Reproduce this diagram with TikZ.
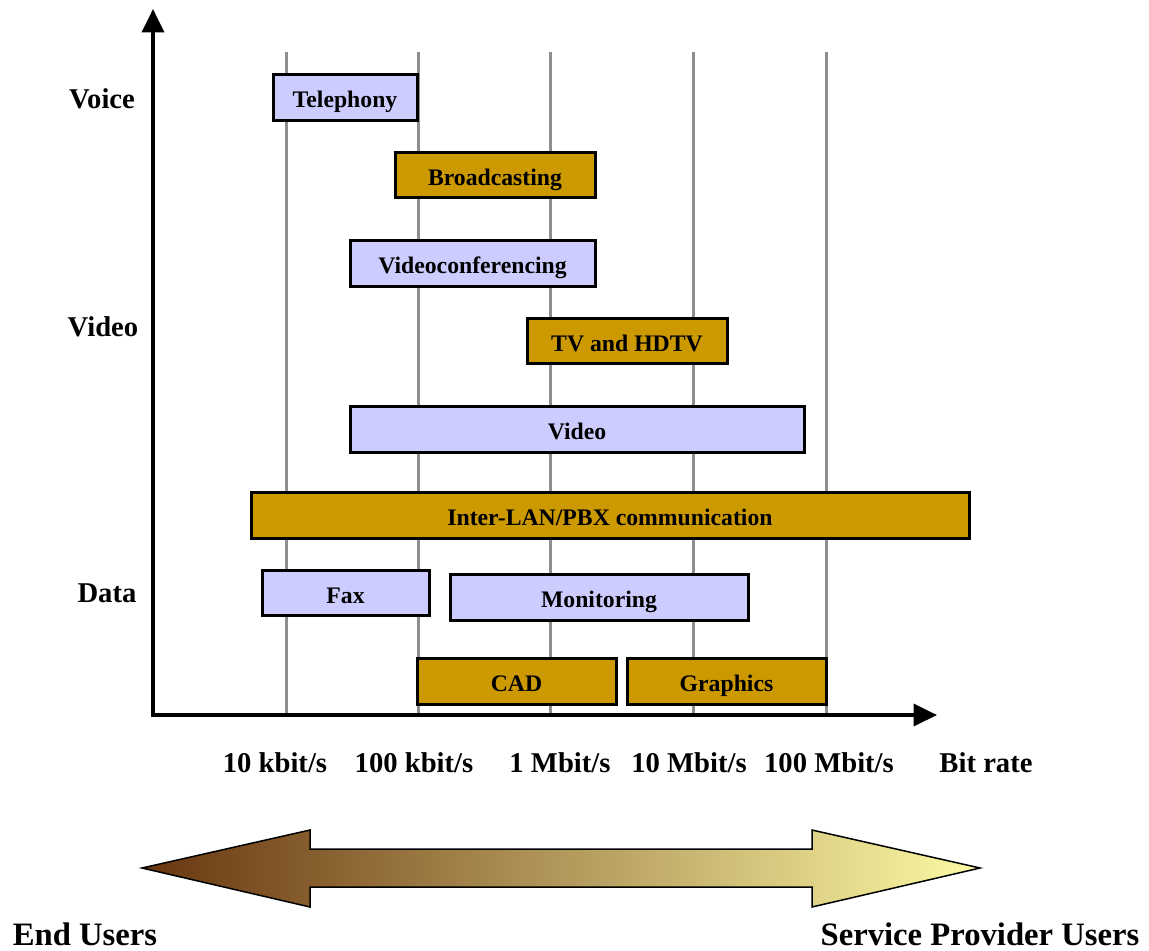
\documentclass[tikz,border=0pt]{standalone}
\usepackage{fontspec}
\setmainfont{Liberation Serif}
\usetikzlibrary{arrows.meta}
\definecolor{lav}{HTML}{CCCCFF}
\definecolor{gold}{HTML}{CC9900}
\definecolor{gridgray}{HTML}{8E8E8E}
\definecolor{brownend}{HTML}{683610}
\definecolor{midtone}{HTML}{BEB06A}
\definecolor{paleend}{HTML}{FCFAA4}
% a bar spanning x1..x2, y1..y2 (pixel units)
\newcommand\mkbar[7]{\node[#2, minimum width={(#5-#3)*0.02cm}, minimum height={(#6-#4)*0.02cm}] (#1) at ({(#3+#5)/2},{(#4+#6)/2}) {#7};}
\begin{document}
\begin{tikzpicture}[x=0.02cm, y=-0.02cm,
  barbase/.style={draw=black, line width=0.06cm, inner sep=0pt, text height=12pt, text depth=0pt,
    font=\fontsize{13.5}{15}\selectfont\bfseries},
  lavbar/.style={barbase, fill=lav},
  goldbar/.style={barbase, fill=gold},
  gridline/.style={draw=gridgray, line width=0.06cm},
  axis/.style={line width=0.08cm, -{Triangle[length=0.47cm, width=0.44cm]}},
  axislabel/.style={font=\fontsize{16.3}{19}\selectfont\bfseries, inner sep=0pt},
  endlabel/.style={font=\fontsize{18.6}{22}\selectfont\bfseries, inner sep=0pt}]
\useasboundingbox (0,0) rectangle (1149,950);

% vertical grid lines at the decade ticks
\foreach \gx/\gn in {286/a, 418/b, 550/c, 693/d, 826/e} {
  \coordinate (g\gn top) at (\gx,52);
  \coordinate (g\gn bot) at (\gx,715);
  \draw[gridline] (g\gn top) -- (g\gn bot);
}

% axes
\coordinate (origin) at (153,715);
\coordinate (ytip) at (153,9);
\coordinate (xtip) at (937,715);
\draw[axis] ([yshift=-0.04cm]origin) -- (ytip);
\draw[axis] ([xshift=-0.04cm]origin) -- (xtip);

% service bars
\mkbar{tel}{lavbar}{273}{74}{417}{120}{Telephony}
\mkbar{bro}{goldbar}{395}{152}{595}{197}{Broadcasting}
\mkbar{vconf}{lavbar}{350}{240}{595}{286}{Videoconferencing}
\mkbar{tv}{goldbar}{527}{318}{727}{363}{TV and HDTV}
\mkbar{vid}{lavbar}{350}{406}{804}{452}{Video}
\mkbar{lan}{goldbar}{251}{492}{969}{538}{Inter-LAN/PBX communication}
\mkbar{fax}{lavbar}{262}{570}{429}{615}{Fax}
\mkbar{mon}{lavbar}{450}{574}{748}{620}{Monitoring}
\mkbar{cad}{goldbar}{417}{658}{616}{704}{CAD}
\mkbar{gra}{goldbar}{627}{658}{826}{704}{Graphics}

% category labels
\node[axislabel] (voice) at (102,99) {Voice};
\node[axislabel] (video) at (103,327) {Video};
\node[axislabel] (data) at (107,593) {Data};

% bit rate labels
\node[axislabel] (r1) at (275,763) {10 kbit/s};
\node[axislabel] (r2) at (414,763) {100 kbit/s};
\node[axislabel] (r3) at (560,763) {1 Mbit/s};
\node[axislabel] (r4) at (689,763) {10 Mbit/s};
\node[axislabel] (r5) at (829,763) {100 Mbit/s};
\node[axislabel] (r6) at (986,763) {Bit rate};

% double-headed shaded arrow
\draw[line width=0.03cm, left color=brownend, middle color=midtone, right color=paleend]
  (142,868) -- (310,830) -- (310,849) -- (812,849) -- (812,830) -- (980,868)
  -- (812,907) -- (812,887) -- (310,887) -- (310,907) -- cycle;

\node[endlabel] (enduser) at (85,934) {End Users};
\node[endlabel] (spuser) at (980,934) {Service Provider Users};
\end{tikzpicture}
\end{document}
